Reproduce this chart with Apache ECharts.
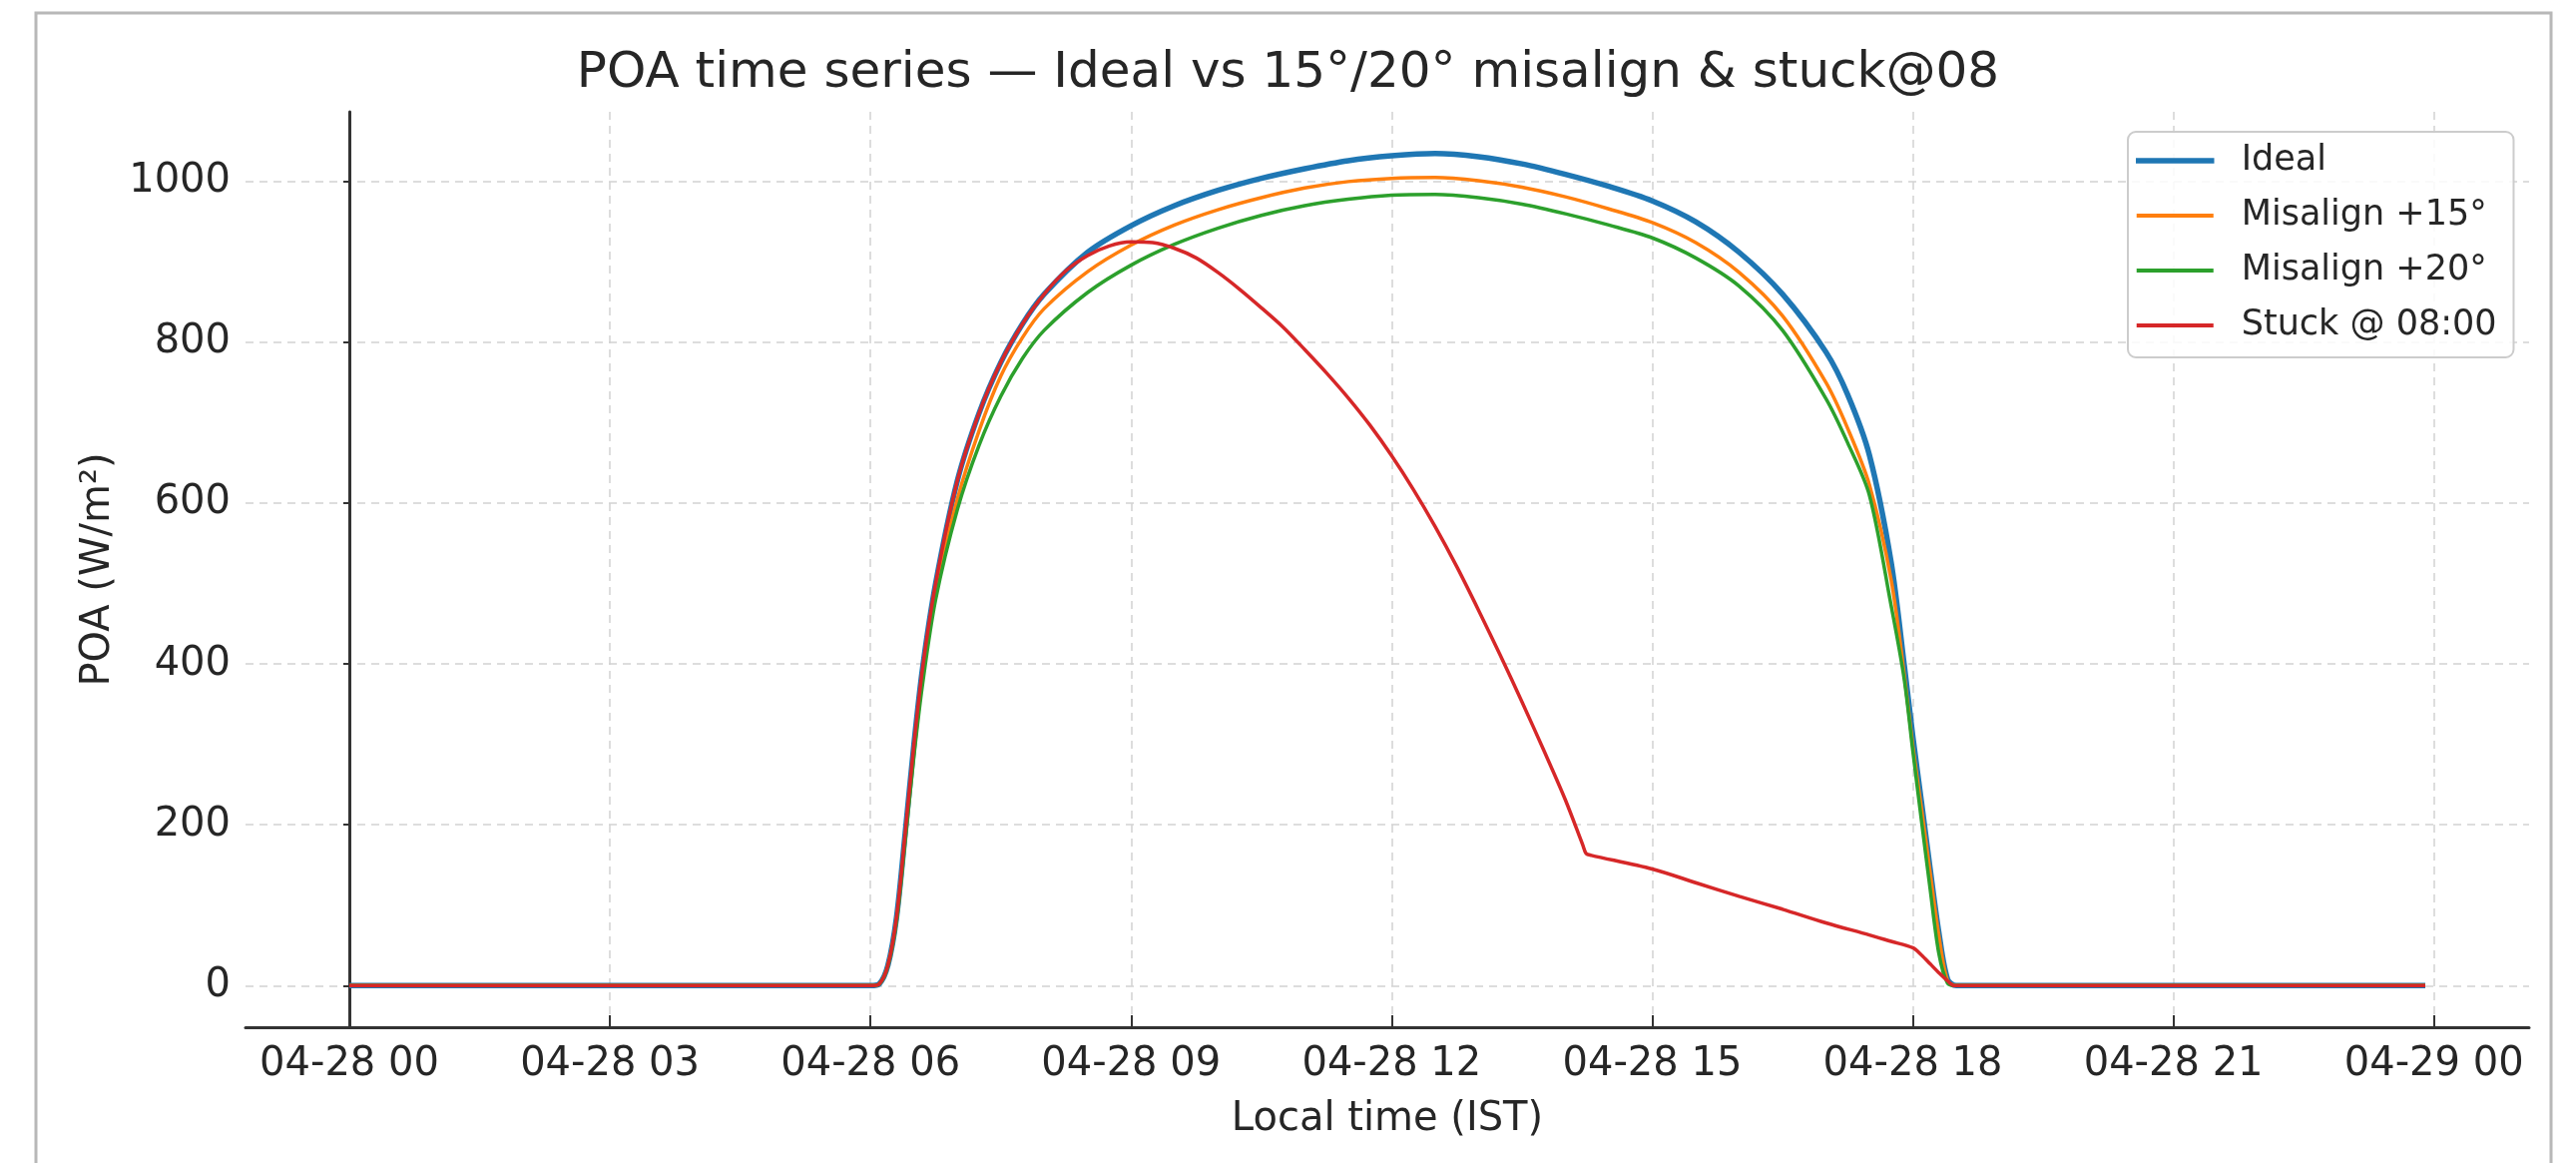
<!DOCTYPE html>
<html>
<head>
<meta charset="utf-8">
<script src="https://cdn.jsdelivr.net/npm/echarts@6/dist/echarts.min.js"></script>
<style>
  html, body { margin: 0; padding: 0; background: #ffffff; }
  #chart { width: 2581px; height: 1165px; }
</style>
</head>
<body>
<div id="chart"></div>
<script>
// ---- Data (hours of 2025-04-28 local time, IST) ----
const hours = [0, 6.0, 6.1, 6.2, 6.3, 6.4, 6.5, 6.6, 6.75, 7.0, 7.25, 7.5, 7.75, 8.0, 8.5, 9.0, 9.5, 10.0, 10.5, 11.0, 11.5, 12.0, 12.5, 13.0, 13.5, 14.0, 14.5, 15.0, 15.5, 16.0, 16.5, 17.0, 17.25, 17.5, 17.75, 17.9, 18.0, 18.1, 18.2, 18.3, 18.4, 18.5, 23.9];
const ideal = [0, 0, 2, 25, 85, 190, 300, 395, 500, 628, 712, 775, 823, 860, 912, 945, 970, 989, 1004, 1016, 1026, 1032, 1035, 1031, 1022, 1009, 994, 976, 950, 912, 860, 788, 735, 660, 527, 400, 310, 228, 145, 66, 8, 0, 0];
const misalign15 = [0, 0, 2, 25, 83, 185, 292, 385, 490, 605, 690, 758, 806, 842, 888, 921, 946, 965, 980, 992, 1000, 1004, 1005, 1001, 993, 981, 966, 949, 924, 887, 833, 750, 693, 623, 505, 388, 298, 220, 140, 62, 6, 0, 0];
const misalign20 = [0, 0, 2, 24, 80, 180, 285, 375, 480, 592, 672, 733, 780, 815, 862, 896, 922, 942, 958, 970, 978, 983, 984, 980, 972, 960, 946, 930, 905, 870, 815, 730, 675, 610, 473, 382, 292, 205, 120, 40, 3, 0, 0];
const stuckHours = [0, 6.0, 6.1, 6.2, 6.3, 6.4, 6.5, 6.6, 6.75, 7.0, 7.25, 7.5, 7.75, 8.0, 8.25, 8.5, 8.75, 9.0, 9.25, 9.5, 9.75, 10.0, 10.25, 10.5, 10.75, 11.0, 11.25, 11.5, 11.75, 12.0, 12.25, 12.5, 12.75, 13.0, 13.25, 13.5, 13.75, 14.0, 14.2, 14.24, 14.3, 15.0, 15.5, 16.0, 16.5, 17.0, 17.5, 17.75, 18.0, 18.1, 18.2, 18.3, 18.4, 18.48, 23.9];
const stuck08 = [0, 0, 2, 25, 85, 190, 300, 395, 500, 628, 712, 775, 823, 860, 889, 908, 920, 925, 924, 917, 905, 887, 866, 843, 819, 791, 762, 731, 697, 659, 617, 571, 521, 467, 411, 353, 293, 231, 175, 164, 162, 145, 128, 111, 95, 78, 63, 55, 47, 38, 27, 16, 6, 0, 0];

const seriesNames = ['Ideal', 'Misalign +15°', 'Misalign +20°', 'Stuck @ 08:00'];
const xTickHours = [0, 3, 6, 9, 12, 15, 18, 21, 24];
const xTickLabels = ['04-28 00', '04-28 03', '04-28 06', '04-28 09', '04-28 12', '04-28 15', '04-28 18', '04-28 21', '04-29 00'];
const yTicks = [0, 200, 400, 600, 800, 1000];

const titleText = 'POA time series — Ideal vs 15°/20° misalign & stuck@08';
const xName = 'Local time (IST)';
const yName = 'POA (W/m²)';

// ---- Chart ----
const FONT = 'DejaVu Sans';
const TXT = '#262626';
const pair = (xs, ys) => xs.map((x, i) => [x, ys[i]]);

const chart = echarts.init(document.getElementById('chart'), null, { renderer: 'canvas' });

const gridLine = { show: true, lineStyle: { color: '#d2d2d2', width: 1.5, type: [8, 6] } };

chart.setOption({
  animation: false,
  backgroundColor: '#ffffff',
  graphic: [{
    type: 'rect',
    z: -10,
    silent: true,
    shape: { x: 36, y: 13, width: 2520, height: 1250 },
    style: { fill: 'none', stroke: '#b8b8b8', lineWidth: 3 }
  }],
  title: {
    text: titleText,
    left: 'center',
    top: 44,
    textStyle: { fontFamily: FONT, fontSize: 50, fontWeight: 'normal', color: TXT }
  },
  legend: {
    left: 2132,
    top: 132,
    orient: 'vertical',
    icon: 'rect',
    itemWidth: 77,
    itemHeight: 4,
    itemGap: 15,
    padding: [9, 17, 12, 8],
    backgroundColor: 'rgba(255,255,255,0.85)',
    borderColor: '#cccccc',
    borderWidth: 2,
    borderRadius: 8,
    textStyle: { fontFamily: FONT, fontSize: 35, color: TXT, lineHeight: 40, padding: [0, 0, 0, 23] },
    data: [
      { name: seriesNames[0], itemStyle: { borderColor: '#1f77b4', borderWidth: 1.5 } },
      { name: seriesNames[1] },
      { name: seriesNames[2] },
      { name: seriesNames[3] }
    ]
  },
  grid: { left: 246, right: 47, top: 112, bottom: 136, containLabel: false },
  xAxis: {
    type: 'value',
    min: -1.195,
    max: 25.095,
    name: xName,
    nameLocation: 'middle',
    nameGap: 73,
    nameTextStyle: { fontFamily: FONT, fontSize: 40, color: TXT },
    axisLine: { show: true, onZero: false, lineStyle: { color: '#333333', width: 3 } },
    axisTick: { show: true, inside: true, length: 12, customValues: xTickHours, lineStyle: { color: '#333333', width: 2 } },
    axisLabel: {
      customValues: xTickHours,
      margin: 18,
      fontFamily: FONT, fontSize: 40, color: TXT,
      formatter: (v) => xTickLabels[xTickHours.indexOf(v)]
    },
    splitLine: gridLine
  },
  yAxis: {
    type: 'value',
    min: -51.75,
    max: 1086.75,
    name: yName,
    nameLocation: 'middle',
    nameGap: 123,
    nameTextStyle: { fontFamily: FONT, fontSize: 40, color: TXT },
    axisLine: { show: true, lineStyle: { color: '#333333', width: 3 } },
    axisTick: { show: true, inside: false, length: 6, customValues: yTicks, lineStyle: { color: '#333333', width: 2 } },
    axisLabel: { customValues: yTicks, margin: 15, fontFamily: FONT, fontSize: 40, color: TXT,
      formatter: (v) => String(v) },
    splitLine: gridLine
  },
  series: [
    { name: seriesNames[0], type: 'line', data: pair(hours, ideal), showSymbol: false, symbol: 'none',
      smooth: 0.3,
      lineStyle: { color: '#1f77b4', width: 5.5 }, itemStyle: { color: '#1f77b4' } },
    { name: seriesNames[1], type: 'line', data: pair(hours, misalign15), showSymbol: false, symbol: 'none',
      smooth: 0.3,
      lineStyle: { color: '#ff7f0e', width: 3.5 }, itemStyle: { color: '#ff7f0e' } },
    { name: seriesNames[2], type: 'line', data: pair(hours, misalign20), showSymbol: false, symbol: 'none',
      smooth: 0.3,
      lineStyle: { color: '#2ca02c', width: 3.5 }, itemStyle: { color: '#2ca02c' } },
    { name: seriesNames[3], type: 'line', data: pair(stuckHours, stuck08), showSymbol: false, symbol: 'none',
      smooth: 0.3,
      lineStyle: { color: '#d62728', width: 3.5 }, itemStyle: { color: '#d62728' } }
  ]
});
</script>
</body>
</html>
